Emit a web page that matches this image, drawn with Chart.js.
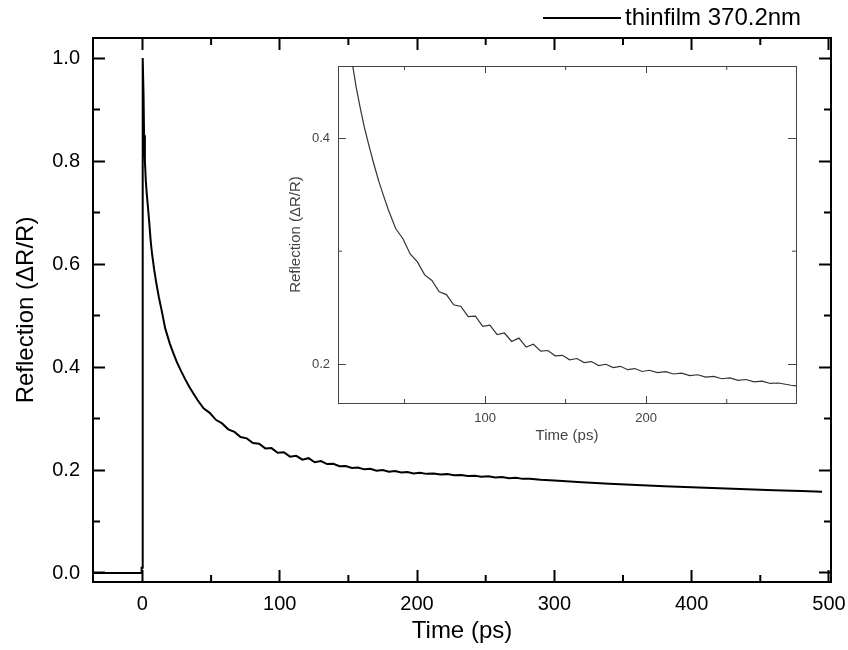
<!DOCTYPE html>
<html>
<head>
<meta charset="utf-8">
<script src="https://cdn.jsdelivr.net/npm/chart.js@4.4.0/dist/chart.umd.min.js"></script>
<style>
html, body { margin: 0; padding: 0; background: #fff; }
#wrap { position: relative; width: 848px; height: 650px; }
#main { position: absolute; left: 0; top: 0; }
#inset { position: absolute; left: 270px; top: 50px; }
</style>
</head>
<body>
<div id="wrap">
<canvas id="main" width="848" height="650"></canvas>
<canvas id="inset" width="540" height="400"></canvas>
</div>
<script>
const seriesName = 'thinfilm 370.2nm';

// time axis (ps)
const timePs = [
  -36, -0.8, -0.6, -0.3, 0.2, 0.8, 1.2, 1.8, 2.5, 3.2,
  4.2, 5, 6, 7, 8.5, 10, 12, 14, 16.6, 20,
  22.5, 25, 28, 31, 34, 37,
  40, 44.5, 49, 53.5, 58, 62.5, 67, 71.5, 76, 80.5,
  85, 89.5, 94, 98.5, 103, 107.5, 112, 116.5, 121, 125.5,
  130, 134.5, 139, 143.5, 148, 152.5, 157, 161.5, 166, 170.5,
  175, 179.5, 184, 188.5, 193, 197.5, 202,
  207, 212, 217, 222, 227, 232, 237, 242, 247, 252,
  257, 262, 267, 272, 277, 282,
  290, 300, 320, 340, 360, 380, 400, 420, 440, 460, 480, 495
];
// reflection dR/R
const reflection = [
  0, 0, 0.01, 0.01, 1.0, 0.93, 0.85, 0.80, 0.76, 0.735,
  0.705, 0.68, 0.645, 0.62, 0.59, 0.565, 0.535, 0.51, 0.475, 0.445,
  0.427, 0.41, 0.393, 0.377, 0.362, 0.349,
  0.3365, 0.320, 0.311, 0.2975, 0.2905, 0.279, 0.274, 0.264, 0.2615, 0.2525,
  0.251, 0.242, 0.2425, 0.2335, 0.2345, 0.226, 0.2275, 0.220, 0.223, 0.215,
  0.2175, 0.2115, 0.212, 0.2073, 0.2077, 0.2038, 0.2049, 0.2013, 0.2022, 0.1986,
  0.1998, 0.1968, 0.198, 0.1950, 0.1960, 0.1934, 0.1945,
  0.1925, 0.1932, 0.1912, 0.1920, 0.1898, 0.1905, 0.1885, 0.1890, 0.1870, 0.1877,
  0.1856, 0.1863, 0.1842, 0.1848, 0.1828, 0.1832,
  0.1812, 0.1795, 0.1760, 0.1735, 0.1710, 0.1685, 0.1665, 0.1645, 0.1625, 0.1605, 0.159, 0.158
];

const mainXTicks = [0, 100, 200, 300, 400, 500];
const mainXMinor = [50, 150, 250, 350, 450];
const mainYTicks = [0, 0.2, 0.4, 0.6, 0.8, 1.0];
const mainYMinor = [0.1, 0.3, 0.5, 0.7, 0.9];
const insetXTicks = [100, 200];
const insetXMinor = [50, 150, 250];
const insetYTicks = [0.2, 0.4];
const insetYMinor = [0.3];

Chart.defaults.font.family = '"Liberation Sans", Arial, sans-serif';

const points = timePs.map((t, i) => ({ x: t, y: reflection[i] }));

// short inward ticks between the labelled ones
const minorTicks = {
  id: 'minorTicks',
  afterDraw(chart, args, o) {
    const ctx = chart.ctx, a = chart.chartArea;
    ctx.save();
    ctx.strokeStyle = o.color;
    ctx.lineWidth = o.width;
    ctx.beginPath();
    o.x.forEach(v => {
      const p = chart.scales.x.getPixelForValue(v);
      ctx.moveTo(p, a.bottom); ctx.lineTo(p, a.bottom - o.len);
      ctx.moveTo(p, a.top); ctx.lineTo(p, a.top + o.len);
    });
    o.y.forEach(v => {
      const p = chart.scales.y.getPixelForValue(v);
      ctx.moveTo(a.left, p); ctx.lineTo(a.left + o.len, p);
      ctx.moveTo(a.right, p); ctx.lineTo(a.right - o.len, p);
    });
    ctx.stroke();
    ctx.restore();
  }
};

// legend line + text in the top right corner
const lineLegend = {
  id: 'lineLegend',
  afterDraw(chart, args, o) {
    if (!o.display) return;
    const ctx = chart.ctx;
    const ds = chart.data.datasets[0];
    ctx.save();
    ctx.strokeStyle = ds.borderColor;
    ctx.lineWidth = 2;
    ctx.beginPath();
    ctx.moveTo(543, 18); ctx.lineTo(621, 18);
    ctx.stroke();
    ctx.fillStyle = '#000';
    ctx.font = '24px "Liberation Sans", Arial, sans-serif';
    ctx.textBaseline = 'middle';
    ctx.fillText(ds.label, 625, 18);
    ctx.restore();
  }
};

function setTicks(list) {
  return s => { s.ticks = list.map(v => ({ value: v })); };
}
// fixed axis sizes, no extra label overhang padding
function fitX(h) {
  return s => { s.height = h; s.paddingLeft = 0; s.paddingRight = 0; };
}
function fitY(w) {
  return s => { s.width = w; s.paddingTop = 0; s.paddingBottom = 0; };
}

new Chart(document.getElementById('main'), {
  type: 'line',
  data: {
    datasets: [{
      label: seriesName,
      data: points,
      borderColor: '#000',
      borderWidth: 2,
      pointRadius: 0,
      tension: 0
    }]
  },
  options: {
    responsive: false,
    animation: false,
    devicePixelRatio: 1,
    layout: { padding: 0 },
    plugins: {
      legend: { display: false },
      tooltip: { enabled: false },
      lineLegend: { display: true },
      minorTicks: { x: mainXMinor, y: mainYMinor, len: 7, width: 2, color: '#000' }
    },
    scales: {
      x: {
        type: 'linear', position: 'bottom', min: -36, max: 501.5,
        afterBuildTicks: setTicks(mainXTicks),
        afterFit: fitX(68),
        grid: { drawOnChartArea: false, tickLength: -12, tickWidth: 2, tickColor: '#000' },
        border: { width: 2, color: '#000' },
        ticks: { color: '#000', font: { size: 20 }, padding: 22, maxRotation: 0 },
        title: { display: true, text: 'Time (ps)', color: '#000', font: { size: 24 }, padding: { top: 0, bottom: 4 } }
      },
      x2: {
        type: 'linear', position: 'top', min: -36, max: 501.5,
        afterBuildTicks: setTicks(mainXTicks),
        afterFit: fitX(38),
        grid: { drawOnChartArea: false, tickLength: -12, tickWidth: 2, tickColor: '#000' },
        border: { width: 2, color: '#000' },
        ticks: { display: false }
      },
      y: {
        type: 'linear', position: 'left', min: -0.0175, max: 1.039,
        afterBuildTicks: setTicks(mainYTicks),
        afterFit: fitY(93),
        grid: { drawOnChartArea: false, tickLength: -12, tickWidth: 2, tickColor: '#000' },
        border: { width: 2, color: '#000' },
        ticks: { color: '#000', font: { size: 20 }, padding: 25, callback: v => v.toFixed(1) },
        title: { display: true, text: 'Reflection (\u0394R/R)', color: '#000', font: { size: 24 }, padding: { top: 12, bottom: 0 } }
      },
      y2: {
        type: 'linear', position: 'right', min: -0.0175, max: 1.039,
        afterBuildTicks: setTicks(mainYTicks),
        afterFit: fitY(17),
        grid: { drawOnChartArea: false, tickLength: -12, tickWidth: 2, tickColor: '#000' },
        border: { width: 2, color: '#000' },
        ticks: { display: false }
      }
    }
  },
  plugins: [minorTicks, lineLegend]
});

// inset: zoom on 8.7 .. 293 ps
const insetBg = {
  id: 'insetBg',
  beforeDraw(chart) {
    const a = chart.chartArea, ctx = chart.ctx;
    ctx.save();
    ctx.fillStyle = '#fff';
    ctx.fillRect(a.left, a.top, a.right - a.left, a.bottom - a.top);
    ctx.restore();
  }
};

new Chart(document.getElementById('inset'), {
  type: 'line',
  data: {
    datasets: [{
      label: seriesName,
      data: points,
      borderColor: '#333',
      borderWidth: 1.2,
      pointRadius: 0,
      tension: 0
    }]
  },
  options: {
    responsive: false,
    animation: false,
    devicePixelRatio: 1,
    layout: { padding: 0 },
    plugins: {
      legend: { display: false },
      tooltip: { enabled: false },
      lineLegend: { display: false },
      minorTicks: { x: insetXMinor, y: insetYMinor, len: 4, width: 1, color: '#444' }
    },
    scales: {
      x: {
        type: 'linear', position: 'bottom', min: 8.7, max: 293,
        afterBuildTicks: setTicks(insetXTicks),
        afterFit: fitX(47),
        grid: { drawOnChartArea: false, tickLength: -7, tickWidth: 1, tickColor: '#444' },
        border: { width: 1, color: '#444' },
        ticks: { color: '#444', font: { size: 13 }, padding: 15, maxRotation: 0 },
        title: { display: true, text: 'Time (ps)', color: '#444', font: { size: 15 }, padding: { top: 0, bottom: 5 } }
      },
      x2: {
        type: 'linear', position: 'top', min: 8.7, max: 293,
        afterBuildTicks: setTicks(insetXTicks),
        afterFit: fitX(16),
        grid: { drawOnChartArea: false, tickLength: -7, tickWidth: 1, tickColor: '#444' },
        border: { width: 1, color: '#444' },
        ticks: { display: false }
      },
      y: {
        type: 'linear', position: 'left', min: 0.1655, max: 0.464,
        afterBuildTicks: setTicks(insetYTicks),
        afterFit: fitY(68),
        grid: { drawOnChartArea: false, tickLength: -8, tickWidth: 1, tickColor: '#444' },
        border: { width: 1, color: '#444' },
        ticks: { color: '#444', font: { size: 13 }, padding: 16, callback: v => v.toFixed(1) },
        title: { display: true, text: 'Reflection (\u0394R/R)', color: '#444', font: { size: 15 }, padding: { top: 17, bottom: 0 } }
      },
      y2: {
        type: 'linear', position: 'right', min: 0.1655, max: 0.464,
        afterBuildTicks: setTicks(insetYTicks),
        afterFit: fitY(14),
        grid: { drawOnChartArea: false, tickLength: -8, tickWidth: 1, tickColor: '#444' },
        border: { width: 1, color: '#444' },
        ticks: { display: false }
      }
    }
  },
  plugins: [insetBg, minorTicks]
});
</script>
</body>
</html>
